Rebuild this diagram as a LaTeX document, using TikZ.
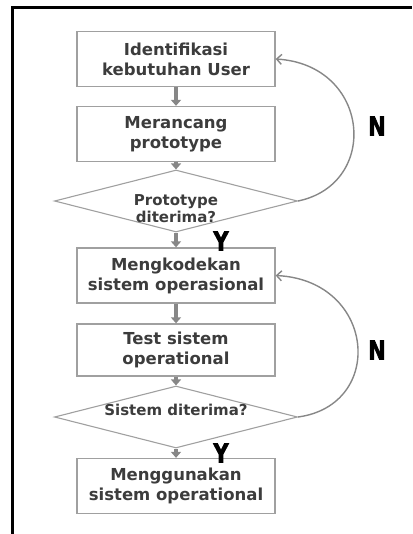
\documentclass[tikz,border=0pt]{standalone}
\usepackage{fontspec}
\setmainfont{DejaVu Sans}
\newfontfamily\ynfont[FakeStretch=0.8,FakeBold=2.5]{DejaVu Sans}
\usetikzlibrary{shapes.geometric}
\usetikzlibrary{arrows.meta}
\definecolor{boxgray}{RGB}{160,160,160}
\definecolor{txtgray}{RGB}{60,60,60}
\definecolor{arrgray}{RGB}{135,135,135}

\begin{document}
\begin{tikzpicture}[x=1pt,y=1pt,yscale=-1,xscale=1,
  kotak/.style={draw=boxgray,line width=1.3pt,minimum width=198pt,minimum height=55pt,inner sep=0pt,align=center,text=txtgray,font=\fontsize{16.5}{20}\selectfont\bfseries},
  belah/.style={diamond,draw=boxgray,line width=1.1pt,aspect=4,minimum width=243pt,minimum height=62pt,inner sep=0pt},
  tanya/.style={inner sep=0pt,align=center,text=txtgray,font=\fontsize{15}{17}\selectfont\bfseries},
  panah/.style={arrgray,line width=3.5pt,-{Triangle[length=6pt,width=10pt]}},
  balik/.style={arrgray,line width=1.4pt,-{Straight Barb[length=5pt,width=10pt]}},
  huruf/.style={inner sep=0pt,font=\ynfont\fontsize{26}{26}\selectfont\bfseries}]
%set diagram to the size of the scan
\useasboundingbox (0,0) rectangle (412,534);

%Shape: Frame
\draw [line width=3pt] (12.5,534) -- (12.5,7.5) -- (412,7.5) ;

%Shape: Boxes and decisions
\node [kotak] (ident) at (176,59) {Identifikasi\\kebutuhan User};
\node [kotak] (rancang) at (176,134) {Merancang\\prototype};
\node [belah] (proto) at (176,201) {};
\node [kotak] (kode) at (176,275.5) {Mengkodekan\\sistem operasional};
\node [kotak,minimum height=52pt] (tes) at (176,350) {Test sistem\\operational};
\node [belah] (terima) at (176,417) {};
\node [kotak] (guna) at (176,486) {Menggunakan\\sistem operational};

% Text Node
\node [tanya] (prototeks) at (176,208.5) {Prototype\\diterima?};
% Text Node
\node [tanya] (terimateks) at (176,410) {Sistem diterima?};

%Straight Lines
\draw [panah] (ident) -- (rancang) ;
\draw [panah] (rancang) -- (proto) ;
\draw [panah] (proto) -- (kode) ;
\draw [panah] (kode) -- (tes) ;
\draw [panah] (tes) -- (terima) ;
\draw [panah] (terima) -- (guna) ;

%Curve Lines
\draw [balik] (proto.east) .. controls +(82,-17) and +(95,6) .. (ident.east) ;
\draw [balik] (terima.east) .. controls +(88,-12) and +(100,5) .. (kode.east) ;

% Text Node
\node [huruf] (y1) at (221,241) {Y};
% Text Node
\node [huruf] (n1) at (377,126) {N};
% Text Node
\node [huruf] (n2) at (377,350) {N};
% Text Node
\node [huruf] (y2) at (221,453) {Y};

\end{tikzpicture}
\end{document}
